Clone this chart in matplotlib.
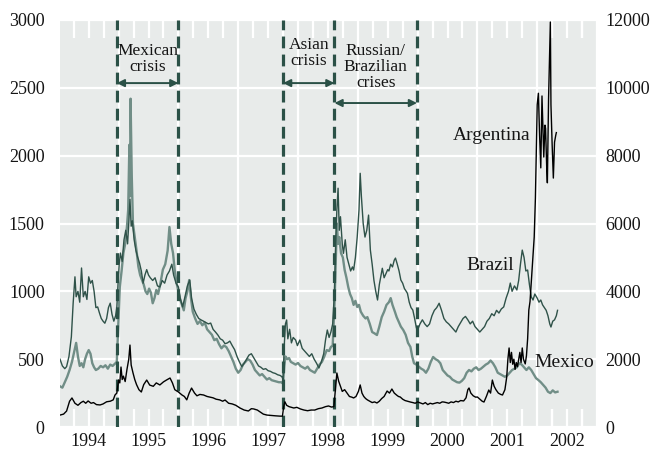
import matplotlib
matplotlib.use("Agg")
import matplotlib.pyplot as plt

plt.rcParams['font.family'] = ['Liberation Serif', 'DejaVu Serif']
plt.rcParams['lines.scale_dashes'] = False

# ---------------- data (spreads, basis points) ----------------
brazil_t = [1994.02, 1994.06, 1994.10, 1994.13, 1994.17, 1994.21, 1994.24, 1994.27, 1994.29, 1994.32,
            1994.35, 1994.38, 1994.41, 1994.44, 1994.47, 1994.50, 1994.53, 1994.56, 1994.59, 1994.62,
            1994.65, 1994.68, 1994.71, 1994.74, 1994.77, 1994.80, 1994.83, 1994.86, 1994.89, 1994.92,
            1994.95, 1994.97, 1994.99, 1995.01, 1995.03, 1995.06, 1995.09, 1995.12, 1995.15, 1995.17,
            1995.19, 1995.21, 1995.23, 1995.26, 1995.29, 1995.32, 1995.35, 1995.38, 1995.41, 1995.44,
            1995.47, 1995.50, 1995.53, 1995.57, 1995.61, 1995.65, 1995.69, 1995.73, 1995.77, 1995.81,
            1995.85, 1995.89, 1995.92, 1995.96, 1996.00, 1996.03, 1996.07, 1996.11, 1996.15, 1996.19,
            1996.22, 1996.26, 1996.30, 1996.34, 1996.38, 1996.42, 1996.46, 1996.50, 1996.54, 1996.58,
            1996.62, 1996.66, 1996.70, 1996.74, 1996.78, 1996.82, 1996.86, 1996.90, 1996.94, 1996.98,
            1997.02, 1997.06, 1997.10, 1997.14, 1997.18, 1997.22, 1997.26, 1997.30, 1997.34, 1997.38,
            1997.42, 1997.46, 1997.50, 1997.54, 1997.58, 1997.62, 1997.66, 1997.70, 1997.73, 1997.75,
            1997.77, 1997.79, 1997.81, 1997.83, 1997.86, 1997.89, 1997.92, 1997.96, 1997.99, 1998.03,
            1998.07, 1998.11, 1998.15, 1998.19, 1998.23, 1998.27, 1998.31, 1998.35, 1998.39, 1998.43,
            1998.46, 1998.49, 1998.52, 1998.55, 1998.58, 1998.61, 1998.63, 1998.65, 1998.67, 1998.69,
            1998.71, 1998.74, 1998.76, 1998.79, 1998.82, 1998.85, 1998.88, 1998.91, 1998.93, 1998.96,
            1998.99, 1999.02, 1999.04, 1999.06, 1999.09, 1999.12, 1999.15, 1999.18, 1999.21, 1999.24,
            1999.27, 1999.30, 1999.33, 1999.36, 1999.39, 1999.41, 1999.44, 1999.47, 1999.50, 1999.52,
            1999.55, 1999.58, 1999.61, 1999.63, 1999.66, 1999.69, 1999.72, 1999.75, 1999.78, 1999.81,
            1999.83, 1999.86, 1999.89, 1999.92, 1999.95, 1999.98, 2000.00, 2000.04, 2000.08, 2000.12,
            2000.16, 2000.20, 2000.24, 2000.28, 2000.32, 2000.36, 2000.40, 2000.44, 2000.48, 2000.52,
            2000.56, 2000.60, 2000.64, 2000.68, 2000.72, 2000.76, 2000.80, 2000.84, 2000.88, 2000.92,
            2000.96, 2001.00, 2001.04, 2001.08, 2001.12, 2001.16, 2001.20, 2001.24, 2001.28, 2001.32,
            2001.36, 2001.40, 2001.44, 2001.48, 2001.52, 2001.55, 2001.58, 2001.62, 2001.66, 2001.69,
            2001.72, 2001.75, 2001.78, 2001.81, 2001.84, 2001.87, 2001.90, 2001.93, 2001.96, 2002.00,
            2002.03, 2002.06, 2002.09, 2002.12, 2002.15, 2002.18, 2002.21, 2002.23, 2002.26, 2002.29,
            2002.32, 2002.34]
brazil_v = [500, 450, 430, 445, 520, 665, 913, 1107, 960, 1000,
            920, 1172, 960, 1000, 940, 1107, 1060, 1080, 1000, 880,
            885, 840, 800, 780, 765, 800, 880, 913, 830, 780,
            820, 880, 1050, 1200, 1282, 1220, 1380, 1450, 1350, 1500,
            1680, 1480, 1520, 1380, 1300, 1250, 1208, 1150, 1060, 1120,
            1160, 1120, 1100, 1080, 1100, 1040, 1032, 1080, 1060, 1120,
            1150, 1200, 1120, 1060, 1032, 950, 885, 960, 1040, 1083,
            950, 869, 830, 800, 789, 780, 770, 760, 766, 720,
            700, 678, 650, 640, 614, 620, 633, 600, 570, 520,
            480, 445, 470, 500, 530, 540, 510, 480, 450, 440,
            425, 430, 415, 410, 400, 395, 385, 380, 371, 350,
            600, 760, 789, 650, 720, 620, 660, 641, 600, 641,
            580, 560, 540, 520, 540, 500, 470, 435, 480, 540,
            641, 715, 660, 700, 760, 1000, 1350, 1600, 1760, 1450,
            1550, 1350, 1280, 1380, 1250, 1200, 1150, 1180, 1157, 1250,
            1400, 1600, 1870, 1700, 1500, 1400, 1450, 1562, 1304, 1200,
            1080, 1000, 936, 1050, 1120, 1170, 1100, 1130, 1160, 1150,
            1200, 1180, 1230, 1245, 1200, 1150, 1083, 1060, 1020, 1000,
            985, 920, 880, 862, 800, 730, 715, 760, 790, 760,
            740, 760, 820, 860, 880, 912, 860, 800, 775, 760,
            740, 720, 700, 740, 770, 800, 815, 790, 760, 780,
            740, 720, 700, 720, 740, 780, 800, 835, 820, 860,
            840, 870, 885, 950, 1000, 1061, 1000, 1040, 1010, 1080,
            1200, 1304, 1250, 1150, 1157, 1050, 960, 936, 980, 950,
            920, 936, 900, 880, 860, 820, 760, 737, 780, 790,
            820, 860]

mexico_t = [1994.02, 1994.06, 1994.10, 1994.14, 1994.18, 1994.22, 1994.26, 1994.29, 1994.32, 1994.35,
            1994.38, 1994.41, 1994.44, 1994.47, 1994.50, 1994.53, 1994.56, 1994.59, 1994.62, 1994.66,
            1994.70, 1994.74, 1994.78, 1994.82, 1994.86, 1994.90, 1994.94, 1994.97, 1994.99, 1995.02,
            1995.05, 1995.08, 1995.11, 1995.14, 1995.16, 1995.18, 1995.19, 1995.20, 1995.22, 1995.24,
            1995.27, 1995.30, 1995.33, 1995.36, 1995.39, 1995.42, 1995.45, 1995.48, 1995.51, 1995.54,
            1995.57, 1995.60, 1995.63, 1995.66, 1995.70, 1995.74, 1995.78, 1995.82, 1995.85, 1995.88,
            1995.91, 1995.94, 1995.97, 1996.00, 1996.03, 1996.06, 1996.09, 1996.12, 1996.15, 1996.18,
            1996.21, 1996.24, 1996.28, 1996.32, 1996.36, 1996.40, 1996.44, 1996.48, 1996.52, 1996.56,
            1996.60, 1996.64, 1996.68, 1996.72, 1996.76, 1996.80, 1996.84, 1996.88, 1996.92, 1996.96,
            1997.00, 1997.04, 1997.08, 1997.12, 1997.16, 1997.20, 1997.24, 1997.28, 1997.32, 1997.36,
            1997.40, 1997.44, 1997.48, 1997.52, 1997.56, 1997.60, 1997.64, 1997.68, 1997.72, 1997.75,
            1997.77, 1997.79, 1997.82, 1997.85, 1997.88, 1997.92, 1997.96, 1998.00, 1998.04, 1998.08,
            1998.12, 1998.16, 1998.20, 1998.24, 1998.28, 1998.32, 1998.36, 1998.40, 1998.44, 1998.48,
            1998.52, 1998.55, 1998.58, 1998.61, 1998.63, 1998.65, 1998.67, 1998.69, 1998.72, 1998.75,
            1998.78, 1998.81, 1998.84, 1998.87, 1998.90, 1998.93, 1998.96, 1998.99, 1999.02, 1999.05,
            1999.09, 1999.13, 1999.16, 1999.20, 1999.24, 1999.28, 1999.32, 1999.36, 1999.40, 1999.44,
            1999.48, 1999.52, 1999.55, 1999.58, 1999.62, 1999.65, 1999.68, 1999.72, 1999.76, 1999.80,
            1999.84, 1999.88, 1999.91, 1999.94, 1999.98, 2000.02, 2000.06, 2000.10, 2000.14, 2000.18,
            2000.22, 2000.26, 2000.30, 2000.34, 2000.38, 2000.42, 2000.46, 2000.50, 2000.54, 2000.58,
            2000.62, 2000.66, 2000.70, 2000.74, 2000.78, 2000.82, 2000.86, 2000.90, 2000.94, 2000.98,
            2001.02, 2001.06, 2001.10, 2001.14, 2001.18, 2001.22, 2001.26, 2001.30, 2001.34, 2001.38,
            2001.42, 2001.46, 2001.50, 2001.54, 2001.58, 2001.62, 2001.66, 2001.70, 2001.74, 2001.78,
            2001.82, 2001.86, 2001.90, 2001.94, 2001.98, 2002.02, 2002.06, 2002.10, 2002.14, 2002.18,
            2002.22, 2002.26, 2002.30, 2002.34]
mexico_v = [300, 290, 330, 370, 420, 480, 560, 620, 520, 450,
            470, 440, 500, 540, 567, 540, 470, 440, 420, 430,
            450, 440, 455, 430, 460, 450, 467, 480, 700, 1032,
            1150, 1282, 1350, 1480, 1600, 2080, 1700, 2420, 1850, 1500,
            1400, 1300, 1183, 1120, 1085, 1050, 1000, 980, 1020, 990,
            912, 950, 1010, 980, 1060, 1160, 1200, 1300, 1474, 1350,
            1282, 1150, 1060, 1000, 940, 900, 860, 950, 1000, 1083,
            950, 850, 800, 760, 780, 750, 770, 720, 700, 680,
            640, 650, 610, 580, 600, 590, 560, 520, 480, 430,
            400, 420, 460, 480, 500, 490, 460, 420, 400, 380,
            390, 370, 350, 360, 345, 340, 335, 330, 330, 320,
            450, 520, 500, 508, 480, 470, 460, 472, 450, 440,
            430, 445, 420, 410, 400, 430, 460, 480, 520, 567,
            560, 590, 600, 900, 1200, 1500, 1350, 1400, 1280, 1250,
            1157, 1100, 1032, 980, 950, 900, 930, 885, 900, 850,
            820, 800, 810, 760, 700, 690, 678, 740, 810, 850,
            900, 920, 950, 900, 850, 810, 780, 740, 715, 680,
            620, 590, 520, 470, 460, 445, 430, 420, 400, 430,
            480, 516, 500, 490, 470, 420, 400, 380, 370, 350,
            340, 330, 327, 340, 360, 400, 420, 410, 430, 440,
            420, 430, 445, 460, 470, 490, 470, 440, 400, 390,
            380, 370, 380, 400, 420, 430, 440, 470, 460, 440,
            420, 440, 420, 390, 360, 346, 330, 310, 290, 260,
            250, 270, 255, 260]

argentina_t = [1994.02, 1994.08, 1994.13, 1994.18, 1994.22, 1994.27, 1994.32, 1994.37, 1994.41, 1994.45,
               1994.49, 1994.54, 1994.58, 1994.63, 1994.69, 1994.74, 1994.80, 1994.86, 1994.91, 1994.94,
               1994.97, 1995.00, 1995.02, 1995.04, 1995.06, 1995.08, 1995.11, 1995.14, 1995.17, 1995.19,
               1995.21, 1995.24, 1995.27, 1995.30, 1995.34, 1995.38, 1995.42, 1995.47, 1995.52, 1995.58,
               1995.63, 1995.69, 1995.75, 1995.80, 1995.86, 1995.90, 1995.94, 1996.00, 1996.06, 1996.10,
               1996.14, 1996.18, 1996.22, 1996.27, 1996.31, 1996.36, 1996.42, 1996.48, 1996.53, 1996.58,
               1996.63, 1996.69, 1996.74, 1996.78, 1996.84, 1996.90, 1996.96, 1997.03, 1997.10, 1997.17,
               1997.22, 1997.26, 1997.32, 1997.38, 1997.42, 1997.48, 1997.55, 1997.62, 1997.70, 1997.74,
               1997.76, 1997.78, 1997.81, 1997.85, 1997.89, 1997.93, 1997.98, 1998.04, 1998.10, 1998.16,
               1998.22, 1998.28, 1998.34, 1998.40, 1998.46, 1998.51, 1998.56, 1998.60, 1998.62, 1998.65,
               1998.68, 1998.71, 1998.74, 1998.78, 1998.82, 1998.86, 1998.90, 1998.93, 1998.97, 1999.01,
               1999.04, 1999.07, 1999.10, 1999.13, 1999.16, 1999.20, 1999.24, 1999.28, 1999.32, 1999.36,
               1999.40, 1999.44, 1999.49, 1999.53, 1999.57, 1999.61, 1999.65, 1999.68, 1999.71, 1999.75,
               1999.79, 1999.83, 1999.88, 1999.92, 1999.96, 2000.00, 2000.05, 2000.09, 2000.13, 2000.17,
               2000.21, 2000.25, 2000.29, 2000.33, 2000.37, 2000.41, 2000.44, 2000.48, 2000.52, 2000.56,
               2000.60, 2000.64, 2000.68, 2000.72, 2000.77, 2000.81, 2000.84, 2000.86, 2000.89, 2000.93,
               2000.97, 2001.00, 2001.04, 2001.08, 2001.11, 2001.15, 2001.19, 2001.22, 2001.25, 2001.28,
               2001.31, 2001.35, 2001.39, 2001.42, 2001.46, 2001.49, 2001.51, 2001.53, 2001.55, 2001.57,
               2001.59, 2001.61, 2001.63, 2001.65, 2001.67, 2001.69, 2001.71, 2001.73, 2001.75, 2001.77,
               2001.80, 2001.82, 2001.84, 2001.86, 2001.88, 2001.91, 2001.93, 2001.95, 2001.97, 2002.00,
               2002.02, 2002.04, 2002.06, 2002.08, 2002.10, 2002.11, 2002.13, 2002.14, 2002.16, 2002.17,
               2002.19, 2002.22, 2002.23, 2002.25, 2002.27, 2002.29, 2002.31, 2002.32]
argentina_v = [352, 380, 470, 760, 856, 700, 640, 720, 760, 700,
               768, 700, 720, 660, 650, 680, 744, 760, 800, 944,
               1000, 1384, 1300, 1768, 1400, 1500, 1340, 1700, 2000, 2416,
               1828, 1600, 1400, 1250, 1100, 1032, 1250, 1384, 1236, 1200,
               1300, 1240, 1330, 1384, 1444, 1300, 1100, 1032, 944, 900,
               800, 1000, 1148, 1000, 920, 960, 944, 900, 880, 860,
               820, 800, 760, 796, 700, 680, 640, 560, 500, 472,
               540, 532, 500, 430, 380, 352, 340, 330, 320, 320,
               600, 744, 640, 600, 580, 560, 580, 532, 500, 480,
               500, 500, 540, 560, 600, 620, 588, 600, 1000, 1592,
               1350, 1200, 1050, 1100, 1000, 900, 880, 856, 900, 1050,
               1240, 1000, 900, 840, 800, 760, 720, 740, 708, 760,
               840, 900, 1060, 1000, 1120, 1000, 940, 900, 884, 820,
               780, 760, 736, 720, 700, 740, 708, 680, 720, 660,
               700, 680, 700, 720, 700, 740, 736, 720, 700, 740,
               720, 760, 740, 780, 768, 860, 1100, 1150, 1000, 920,
               880, 884, 820, 760, 736, 900, 1090, 1000, 1384, 1200,
               1100, 1000, 960, 944, 1100, 1470, 2000, 2330, 1900, 2200,
               1850, 2000, 1700, 1900, 1780, 2000, 2200, 1900, 2330, 2000,
               1860, 2100, 2600, 3450, 3700, 4500, 5000, 5600, 6750, 9500,
               9840, 8600, 7640, 9760, 8500, 7960, 8900, 8800, 7600, 7200,
               9680, 11940, 9500, 8320, 7340, 8400, 8600, 8680]

years = [1994, 1995, 1996, 1997, 1998, 1999, 2000, 2001, 2002]
year_labels = ["1994", "1995", "1996", "1997", "1998", "1999", "2000", "2001", "2002"]
left_ticks = [0, 500, 1000, 1500, 2000, 2500, 3000]
right_ticks = [0, 2000, 4000, 6000, 8000, 10000, 12000]

crisis_names = ["Mexican\ncrisis", "Asian\ncrisis", "Russian/\nBrazilian\ncrises"]
crisis_start = [1994.97, 1997.75, 1998.61]
crisis_end = [1996.00, 1998.61, 1999.99]

# ---------------- styling ----------------
BG = "#e8ebea"
BRAZIL_C = "#2f5249"
MEXICO_C = "#718e87"
DASH_C = "#2b5147"
TXT = "#151515"

fig = plt.figure(figsize=(6.52, 4.5), dpi=100)
ax = fig.add_axes([60 / 652, 23 / 450, 537 / 652, 407 / 450])
ax.set_facecolor(BG)
ax.set_xlim(1994.02, 2003.0)
ax.set_ylim(0, 3000)

for s in ax.spines.values():
    s.set_visible(False)

ax.set_axisbelow(True)
ax.grid(axis='y', color='white', lw=1.6)
ax.vlines([y for y in years[1:]] + [2003], 0, 3000, colors='white', lw=1.6, zorder=0.6)

# x ticks: labels mid-year, short white ticks at quarters
ax.set_xticks([y + 0.5 for y in years])
ax.set_xticklabels(year_labels)
ax.set_xticks([y + q for y in years for q in (0.25, 0.75)] + [2002.25, 2002.75], minor=True)
ax.tick_params(axis='x', which='both', direction='in', length=13, width=1.6,
               color='white', top=True, bottom=True, labelsize=13, pad=4, labelcolor=TXT)
ax.set_yticks(left_ticks)
ax.tick_params(axis='y', length=0, labelsize=13, pad=11, labelcolor=TXT)

ax.plot(mexico_t, mexico_v, color=MEXICO_C, lw=1.7, zorder=2)
ax.plot(brazil_t, brazil_v, color=BRAZIL_C, lw=1.0, zorder=3)

# crisis dashed lines
for xv in sorted(set(crisis_start + crisis_end)):
    ax.axvline(xv, color=DASH_C, lw=2.3, dashes=(8.5, 4.5), zorder=4)

# crisis labels and arrows
label_y = [2715, 2757, 2655]
arrow_y = [2535, 2535, 2388]
for name, s, e, ly, ay in zip(crisis_names, crisis_start, crisis_end, label_y, arrow_y):
    ax.text((s + e) / 2, ly, name, ha='center', va='center', fontsize=12.5,
            color=TXT, linespacing=1.0, zorder=5)
    ax.annotate('', xy=(e, ay), xytext=(s, ay),
                arrowprops=dict(arrowstyle='<|-|>', color=DASH_C, lw=1.4,
                                mutation_scale=11, shrinkA=0, shrinkB=0), zorder=5)

ax.text(2001.22, 1190, "Brazil", ha='center', va='center', fontsize=14, color=TXT)
ax.text(2002.46, 479, "Mexico", ha='center', va='center', fontsize=14, color=TXT)

ax2 = ax.twinx()
ax2.set_ylim(0, 12000)
ax2.set_yticks(right_ticks)
ax2.tick_params(axis='y', length=0, labelsize=13, pad=6, labelcolor=TXT)
for s in ax2.spines.values():
    s.set_visible(False)
ax2.plot(argentina_t, argentina_v, color='black', lw=1.0, zorder=3)
ax2.text(2001.24, 8600, "Argentina", ha='center', va='center', fontsize=14, color=TXT)

fig.savefig("out.png", dpi=100, facecolor='white')
